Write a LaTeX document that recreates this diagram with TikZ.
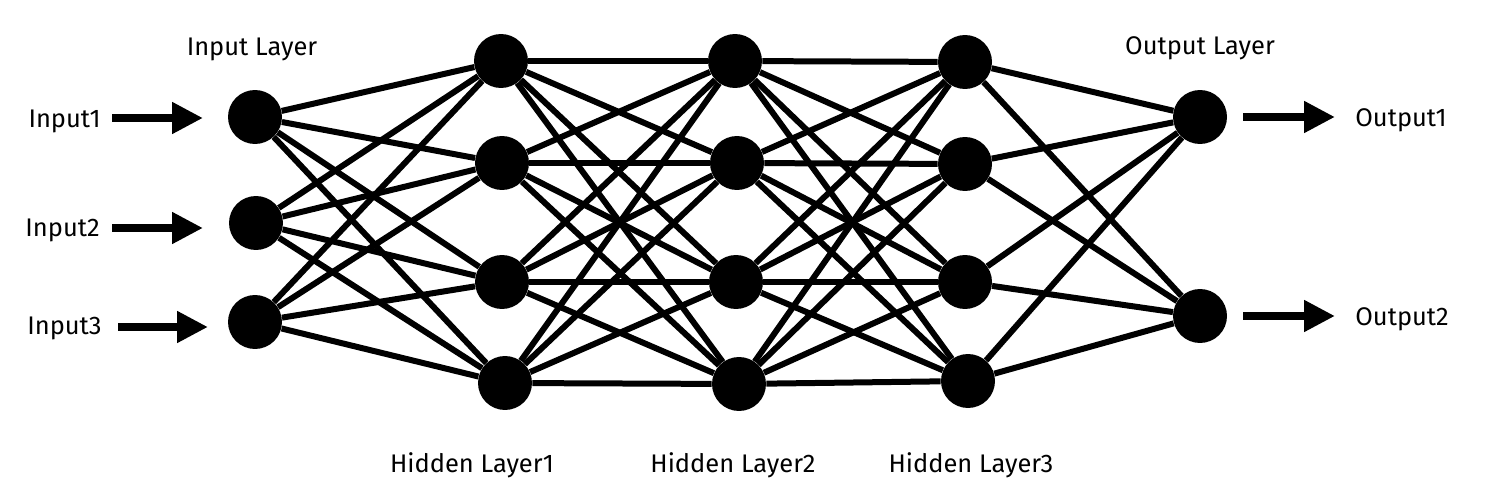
\documentclass[tikz,border=0pt]{standalone}
\usepackage{fontspec}
\setmainfont{Fira Sans}
\usetikzlibrary{arrows.meta}

\begin{document}
\begin{tikzpicture}[x=0.02cm, y=-0.02cm,
		neuron/.style={circle, fill=black, minimum size=1.08cm, inner sep=0pt},
		link/.style={line width=0.12cm},
		flow/.style={line width=0.16cm, -{Triangle[length=0.62cm, width=0.6cm]}},
		lbl/.style={font=\fontsize{14.5}{17}\selectfont, inner sep=0pt}]
	\useasboundingbox (0,0) rectangle (1485,489);
	% neurons
	\node[neuron] (i1) at (255,117) {};
	\node[neuron] (i2) at (256,223) {};
	\node[neuron] (i3) at (255,322) {};
	\node[neuron] (a1) at (501,61) {};
	\node[neuron] (a2) at (502,163) {};
	\node[neuron] (a3) at (502,282) {};
	\node[neuron] (a4) at (505,383) {};
	\node[neuron] (b1) at (735,61) {};
	\node[neuron] (b2) at (737,163) {};
	\node[neuron] (b3) at (736,282) {};
	\node[neuron] (b4) at (739,384) {};
	\node[neuron] (c1) at (965,62) {};
	\node[neuron] (c2) at (965,164) {};
	\node[neuron] (c3) at (965,282) {};
	\node[neuron] (c4) at (968,381) {};
	\node[neuron] (o1) at (1200,117) {};
	\node[neuron] (o2) at (1200,316) {};
	% links
	\foreach \p in {1,2,3}
		\foreach \q in {1,...,4}
			\draw[link] (i\p) -- (a\q);
	\foreach \p in {1,...,4}
		\foreach \q in {1,...,4} {
			\draw[link] (a\p) -- (b\q);
			\draw[link] (b\p) -- (c\q);
		}
	\foreach \p in {1,...,4}
		\foreach \q in {1,2}
			\draw[link] (c\p) -- (o\q);
	% layer labels
	\node[lbl, anchor=base] (inl) at (252,56) {Input Layer};
	\node[lbl, anchor=base] (outl) at (1200,55) {Output Layer};
	\node[lbl, anchor=base] (hl1) at (472,473) {Hidden Layer1};
	\node[lbl, anchor=base] (hl2) at (733,473) {Hidden Layer2};
	\node[lbl, anchor=base] (hl3) at (971,473) {Hidden Layer3};
	% inputs
	\node[lbl, anchor=base east] (in1) at (101,128) {Input1};
	\node[lbl, anchor=base east] (in2) at (100,237) {Input2};
	\node[lbl, anchor=base east] (in3) at (102,335) {Input3};
	\coordinate (t1) at (203,118);
	\coordinate (t2) at (203,228);
	\coordinate (t3) at (208,327);
	\draw[flow] (in1.east |- t1) ++(11,0) -- (t1);
	\draw[flow] (in2.east |- t2) ++(12,0) -- (t2);
	\draw[flow] (in3.east |- t3) ++(16,0) -- (t3);
	% outputs
	\node[lbl, anchor=base west] (out1) at (1355,127) {Output1};
	\node[lbl, anchor=base west] (out2) at (1355,326) {Output2};
	\coordinate (u1) at (1335,117);
	\coordinate (u2) at (1335,316);
	\draw[flow] (o1.east) ++(16,0) -- (u1);
	\draw[flow] (o2.east) ++(16,0) -- (u2);
\end{tikzpicture}
\end{document}
